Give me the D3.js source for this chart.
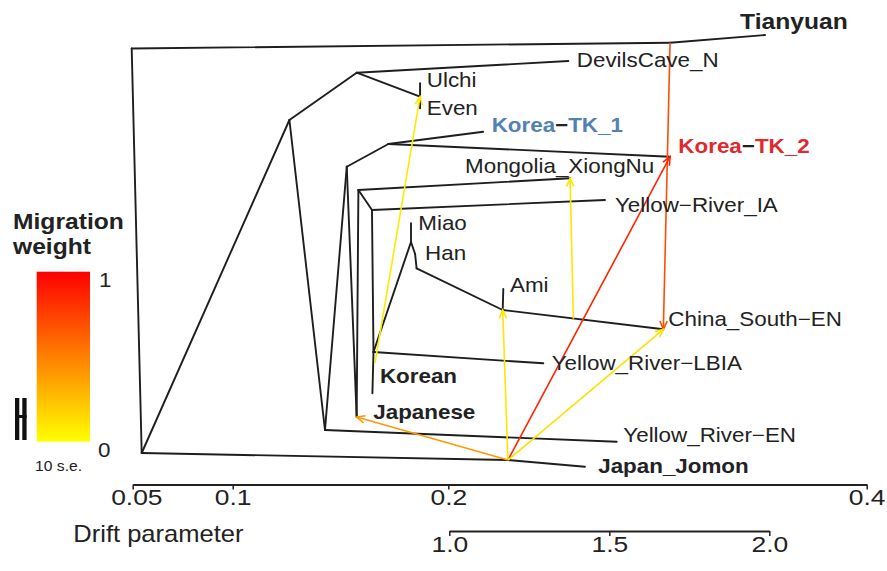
<!DOCTYPE html>
<html><head><meta charset="utf-8">
<script src="https://cdn.jsdelivr.net/npm/d3@7"></script>
<style>
body{margin:0;background:#fff}
text{font-family:"Liberation Sans",Arial,Helvetica,sans-serif;fill:#222}
</style>
</head><body>
<svg id="chart" width="887" height="571"></svg>
<script>
// ---------------- DATA ----------------
// tree nodes: name, drift (x) and vertical position (0..1)
const nodeNames = ["R0","MT","Tianyuan","N1","MJ","Japan_Jomon","A","B","DevilsCave_N","UE","Ulchi","Even",
  "C","Yellow_River-EN","D","E","Korea-TK_1","Korea-TK_2","Japanese","F","Mongolia_XiongNu","G",
  "Yellow-River_IA","S","Korean","Yellow_River-LBIA","P","Miao","Han","Q","AmiNode","Ami","China_South-EN","MA","MK"];
const nodeDrift = [0.0495,0.3060,0.3514,0.0545,0.2285,0.2653,0.1263,0.1575,0.2574,0.1869,0.1869,0.1869,
  0.1428,0.2805,0.1529,0.1722,0.2167,0.3060,0.1575,0.1583,0.2582,0.1646,
  0.2749,0.1653,0.1648,0.2454,0.1827,0.1827,0.1846,0.1853,0.2260,0.2263,0.3028,0.2598,0.1660];
const nodeY = [0.9589,0.9718,0.9889,0.0600,0.0444,0.0296,0.8000,0.9051,0.9311,0.8518,0.8816,0.8260,
  0.1111,0.0851,0.6962,0.7467,0.7740,0.7184,0.1400,0.6444,0.6704,0.6000,
  0.6222,0.2844,0.1927,0.2593,0.5289,0.5704,0.5022,0.4704,0.3778,0.4244,0.3349,0.3584,0.2600];
// tree edges (parent -> child)
const edgeFrom = ["R0","MT","R0","N1","MJ","N1","A","B","B","UE","UE","A","C","C","D","E","E","D","Japanese","F","F","G","G","S","S","S","P","P","Han","Q","AmiNode","AmiNode"];
const edgeTo   = ["MT","Tianyuan","N1","MJ","Japan_Jomon","A","B","DevilsCave_N","UE","Ulchi","Even","C","Yellow_River-EN","D","E","Korea-TK_1","Korea-TK_2","Japanese","F","Mongolia_XiongNu","G","Yellow-River_IA","S","Korean","Yellow_River-LBIA","P","Miao","Han","Q","AmiNode","Ami","China_South-EN"];
// migration edges
const migFrom   = ["MK","MA","MT","MJ","MJ","MJ","MJ"];
const migTo     = ["UE","Mongolia_XiongNu","China_South-EN","Korea-TK_2","China_South-EN","AmiNode","Japanese"];
const migWeight = [0.08,0.10,0.70,0.86,0.12,0.10,0.40];
// tip labels
const tipNames = ["Tianyuan","DevilsCave_N","Ulchi","Even","Korea-TK_1","Korea-TK_2","Mongolia_XiongNu","Yellow-River_IA",
  "Miao","Han","Ami","China_South-EN","Yellow_River-LBIA","Korean","Japanese","Yellow_River-EN","Japan_Jomon"];
const tipLabels = ["Tianyuan","DevilsCave_N","Ulchi","Even","Korea−TK_1","Korea−TK_2","Mongolia_XiongNu","Yellow−River_IA",
  "Miao","Han","Ami","China_South−EN","Yellow_River−LBIA","Korean","Japanese","Yellow_River−EN","Japan_Jomon"];
// axes
const driftTicks = [0.05,0.1,0.2,0.4];
const driftTickLabels = ["0.05","0.1","0.2","0.4"];
const seTicks = [1.0,1.5,2.0];
const seTickLabels = ["1.0","1.5","2.0"];

// ---------------- LAYOUT / STYLE ----------------
const labelStyle = {
  "Tianyuan":{dx:-25,dy:-5.5,bold:true,size:22},
  "DevilsCave_N":{dx:8.4,dy:5.7},
  "Ulchi":{dx:6.7,dy:3.4},
  "Even":{dx:6.7,dy:6.7},
  "Korea-TK_1":{dx:8.4,dy:0,bold:true,color:"#5282b2"},
  "Korea-TK_2":{dx:8.3,dy:-3.4,bold:true,color:"#e0282d"},
  "Mongolia_XiongNu":{dx:-105,dy:-5},
  "Yellow-River_IA":{dx:10,dy:11.7},
  "Miao":{dx:7.3,dy:6.7},
  "Han":{dx:10,dy:6},
  "Ami":{dx:6.7,dy:2.7},
  "China_South-EN":{dx:5,dy:-3.3},
  "Yellow_River-LBIA":{dx:8.4,dy:6.7},
  "Korean":{dx:7.5,dy:-10,bold:true},
  "Japanese":{dx:16.6,dy:2.3,bold:true},
  "Yellow_River-EN":{dx:6.6,dy:0},
  "Japan_Jomon":{dx:13.3,dy:6.6,bold:true}
};
const SX = 1.12; // horizontal text stretch

const svg = d3.select("#chart");
const x = d3.scaleLinear().domain(driftTicks).range([132.7,232.7,448.3,866.7]);
const y = d3.scaleLinear().domain([0,1]).range([480,30]);
const xs = d3.scaleLinear().domain([1,2]).range([449.3,769.3]);
const col = d3.interpolateRgb("#ffff00","#ff0000");

const pos = {};
nodeNames.forEach((n,i)=>{pos[n]=[x(nodeDrift[i]),y(nodeY[i])];});

// tree edges
svg.append("g").selectAll("line").data(edgeFrom.map((f,i)=>[f,edgeTo[i]])).join("line")
  .attr("x1",d=>pos[d[0]][0]).attr("y1",d=>pos[d[0]][1])
  .attr("x2",d=>pos[d[1]][0]).attr("y2",d=>pos[d[1]][1])
  .attr("stroke","#1e1e1e").attr("stroke-width",1.9).attr("stroke-linecap","round");

// migration edges
const mig = migFrom.map((f,i)=>({s:pos[f],t:pos[migTo[i]],w:migWeight[i]}));
const mg = svg.append("g");
mg.selectAll("line").data(mig).join("line")
  .attr("x1",d=>d.s[0]).attr("y1",d=>d.s[1]).attr("x2",d=>d.t[0]).attr("y2",d=>d.t[1])
  .attr("stroke",d=>col(d.w)).attr("stroke-width",1.6);
mg.selectAll("path").data(mig).join("path")
  .attr("d",d=>{
    const a=Math.atan2(d.t[1]-d.s[1],d.t[0]-d.s[0]), L=9, th=0.42;
    const p1=[d.t[0]-L*Math.cos(a-th),d.t[1]-L*Math.sin(a-th)];
    const p2=[d.t[0]-L*Math.cos(a+th),d.t[1]-L*Math.sin(a+th)];
    return `M${p1}L${d.t}L${p2}`;})
  .attr("fill","none").attr("stroke",d=>col(d.w)).attr("stroke-width",1.6);

// tip labels
tipNames.forEach((n,i)=>{
  const st=labelStyle[n]; const p=pos[n];
  const t=svg.append("text")
    .attr("transform",`translate(${p[0]+st.dx},${p[1]+st.dy}) scale(${SX},1)`)
    .attr("font-size",st.size||20).attr("font-weight",st.bold?"bold":"normal");
  if(st.color){
    const parts=tipLabels[i].split("−");
    t.append("tspan").text(parts[0]).style("fill",st.color);
    t.append("tspan").text("−").style("fill","#222");
    t.append("tspan").text(parts[1]).style("fill",st.color);
  } else t.text(tipLabels[i]);
});

// drift axis
const ax = svg.append("g").attr("transform","translate(0,484.5)")
  .call(d3.axisBottom(x).tickValues(driftTicks).tickFormat((d,i)=>driftTickLabels[i]).tickSize(5).tickSizeOuter(0).tickPadding(0));
const ax2 = svg.append("g").attr("transform","translate(0,531)")
  .call(d3.axisBottom(xs).tickValues(seTicks).tickFormat((d,i)=>seTickLabels[i]).tickSize(5).tickSizeOuter(0).tickPadding(0));
[ax,ax2].forEach(a=>{
  a.select(".domain").attr("stroke","#222").attr("stroke-width",1.8);
  a.selectAll(".tick line").attr("stroke","#222").attr("stroke-width",1.5);
  a.selectAll(".tick text").attr("font-size",22).attr("font-family","Liberation Sans, Arial, sans-serif")
    .style("fill","#222").attr("transform","scale(1.2,1)");
});
ax.selectAll(".tick text").filter((d,i)=>i===0).attr("x",3);
svg.append("text").attr("transform",`translate(73.3,541.7) scale(1.11,1)`).attr("font-size",23).text("Drift parameter");

// legend
const lg = svg.append("g");
lg.append("text").attr("transform",`translate(13,229) scale(${SX},1)`).attr("font-size",22).attr("font-weight","bold").text("Migration");
lg.append("text").attr("transform",`translate(13,254) scale(${SX},1)`).attr("font-size",22).attr("font-weight","bold").text("weight");
const grad = svg.append("defs").append("linearGradient").attr("id","mw").attr("x1",0).attr("y1",1).attr("x2",0).attr("y2",0);
d3.range(0,1.0001,0.1).forEach(v=>grad.append("stop").attr("offset",v).attr("stop-color",col(v)));
lg.append("rect").attr("x",36.7).attr("y",271.7).attr("width",53.3).attr("height",170).attr("fill","url(#mw)");
lg.append("text").attr("transform",`translate(99,286.7) scale(${SX},1)`).attr("font-size",20).text("1");
lg.append("text").attr("transform",`translate(98,456.7) scale(${SX},1)`).attr("font-size",20).text("0");
lg.append("text").attr("transform",`translate(35,471) scale(${SX},1)`).attr("font-size",14).text("10 s.e.");
lg.append("rect").attr("x",15).attr("y",398).attr("width",4.3).attr("height",42).attr("fill","#111");
lg.append("rect").attr("x",22.3).attr("y",398).attr("width",4.3).attr("height",42).attr("fill","#111");
lg.append("rect").attr("x",15).attr("y",415).attr("width",11.6).attr("height",3).attr("fill","#111");
</script>
</body></html>
